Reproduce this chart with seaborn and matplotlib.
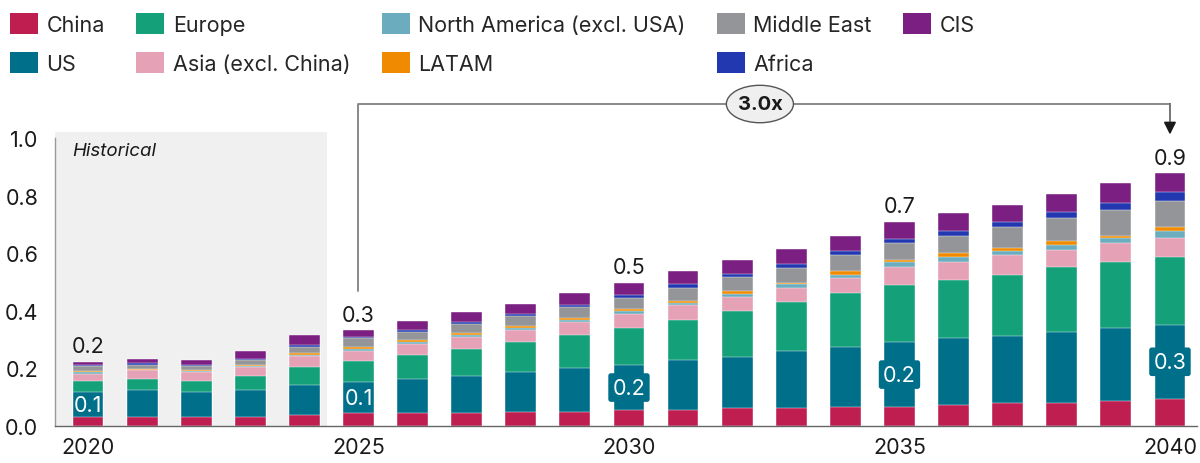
import numpy as np
import pandas as pd
import matplotlib
matplotlib.use('Agg')
import matplotlib.pyplot as plt
from matplotlib.patches import Patch, Rectangle, Ellipse
import seaborn as sns

years = list(range(2020, 2041))
regions = ['China', 'US', 'Europe', 'Asia (excl. China)', 'North America (excl. USA)',
           'LATAM', 'Middle East', 'Africa', 'CIS']
colors = ['#be1e50', '#006f8a', '#14a078', '#e5a1b5', '#6badbf',
          '#f08a00', '#939598', '#2238b0', '#7b1f82']

china = [0.030, 0.030, 0.030, 0.030, 0.037, 0.044, 0.044, 0.044, 0.050, 0.050, 0.055,
         0.055, 0.061, 0.061, 0.067, 0.067, 0.073, 0.079, 0.079, 0.086, 0.094]
us = [0.089, 0.096, 0.089, 0.096, 0.106, 0.108, 0.119, 0.131, 0.139, 0.151, 0.157,
      0.175, 0.180, 0.198, 0.206, 0.223, 0.231, 0.235, 0.248, 0.253, 0.258]
europe = [0.038, 0.037, 0.037, 0.049, 0.063, 0.073, 0.085, 0.092, 0.102, 0.115, 0.127,
          0.139, 0.159, 0.170, 0.188, 0.201, 0.204, 0.211, 0.224, 0.229, 0.235]
asia = [0.024, 0.031, 0.033, 0.031, 0.037, 0.036, 0.037, 0.043, 0.042, 0.044, 0.050,
        0.051, 0.049, 0.049, 0.053, 0.060, 0.062, 0.070, 0.061, 0.067, 0.067]
north_america = [0.005, 0.002, 0.002, 0.002, 0.004, 0.006, 0.006, 0.006, 0.008, 0.009, 0.010,
                 0.008, 0.011, 0.015, 0.012, 0.017, 0.018, 0.014, 0.016, 0.017, 0.024]
latam = [0.006, 0.003, 0.002, 0.005, 0.008, 0.007, 0.007, 0.007, 0.007, 0.007, 0.007,
         0.007, 0.008, 0.005, 0.011, 0.009, 0.011, 0.009, 0.013, 0.009, 0.012]
middle_east = [0.015, 0.014, 0.015, 0.017, 0.019, 0.031, 0.029, 0.031, 0.035, 0.038, 0.038,
               0.044, 0.049, 0.051, 0.056, 0.060, 0.062, 0.074, 0.080, 0.090, 0.092]
africa = [0.004, 0.006, 0.003, 0.001, 0.006, 0.005, 0.006, 0.006, 0.006, 0.007, 0.011,
          0.013, 0.011, 0.013, 0.013, 0.012, 0.017, 0.015, 0.023, 0.023, 0.029]
cis = [0.012, 0.012, 0.019, 0.029, 0.036, 0.023, 0.031, 0.035, 0.035, 0.040, 0.042,
       0.047, 0.048, 0.051, 0.053, 0.060, 0.060, 0.061, 0.062, 0.069, 0.066]

label_years = [2020, 2025, 2030, 2035, 2040]
growth_label = '3.0x'

series = [china, us, europe, asia, north_america, latam, middle_east, africa, cis]

sns.set_theme(style='white')
plt.rcParams['font.family'] = ['Inter', 'DejaVu Sans']

fig = plt.figure(figsize=(12, 4.64), dpi=100)
ax = fig.add_axes([55 / 1200, 37 / 464, 1142 / 1200, 288 / 464])

year_str = [str(y) for y in years]
tops = np.cumsum(np.array(series), axis=0)

# draw the cumulative totals from the top layer down, so each layer covers the next
for i in range(len(regions) - 1, -1, -1):
    sns.barplot(x=year_str, y=tops[i], order=year_str, color=colors[i], saturation=1,
                width=0.57, errorbar=None, ax=ax, zorder=2,
                edgecolor='white', linewidth=0.3)

ax.set_xlim(-0.61, 20.5)
ax.set_ylim(0, 1.0)

# historical shading
ax.add_patch(Rectangle((-0.61, 0), 5.03, 1.022, facecolor='#f0f0f0', edgecolor='none',
                       zorder=0, clip_on=False))
ax.text(-0.30, 0.955, 'Historical', style='italic', fontsize=13.5, color='#1a1a1a',
        va='center', ha='left')

fs = 15.5
ax.set_yticks(np.arange(0, 1.01, 0.2))
ax.set_yticklabels([f'{v:.1f}' for v in np.arange(0, 1.01, 0.2)])
ax.set_xticks([years.index(y) for y in label_years])
ax.set_xticklabels([str(y) for y in label_years])
ax.tick_params(axis='y', length=0, pad=12, labelsize=fs, labelcolor='#1a1a1a')
ax.tick_params(axis='x', length=0, pad=8, labelsize=fs, labelcolor='#1a1a1a')
ax.set_xlabel('')
ax.set_ylabel('')
for s in ['top', 'right']:
    ax.spines[s].set_visible(False)
ax.spines['left'].set_color('#9a9a9a')
ax.spines['bottom'].set_color('#666666')
ax.spines['left'].set_linewidth(1)
ax.spines['bottom'].set_linewidth(1)

totals = tops[-1]
for y in label_years:
    i = years.index(y)
    ax.annotate(f'{totals[i]:.1f}', (i, totals[i]), xytext=(0, 4), textcoords='offset points',
                ha='center', va='bottom', fontsize=fs, color='#1a1a1a')
    mid = china[i] + us[i] / 2
    box = None
    if y >= 2030:
        box = dict(boxstyle='round,pad=0.2,rounding_size=0.12', facecolor=colors[1],
                   edgecolor='none')
    ax.text(i, mid, f'{us[i]:.1f}', ha='center', va='center', fontsize=fs, color='white',
            bbox=box, zorder=5)

# growth bracket
i0 = years.index(2025)
i1 = years.index(2040)
yb = 1.118
line_c = '#808080'
ax.plot([i0, i0, i1], [0.469, yb, yb], color=line_c, lw=1.3, clip_on=False, zorder=3)
ax.annotate('', xy=(i1, 1.012), xytext=(i1, yb), annotation_clip=False,
            arrowprops=dict(arrowstyle='-|>', color='#1a1a1a', lw=1.3, mutation_scale=18,
                            shrinkA=0, shrinkB=0), zorder=3)
ax.plot([i1, i1], [yb, 1.06], color=line_c, lw=1.3, clip_on=False, zorder=4)
ax.add_patch(Ellipse((12.42, yb), 1.24, 0.13, facecolor='#efefef', edgecolor='#555555',
                     lw=1, clip_on=False, zorder=5))
ax.text(12.42, yb, growth_label, ha='center', va='center', fontsize=14.5, fontweight='bold',
        color='#1a1a1a', zorder=6)

handles = [Patch(facecolor=c, edgecolor='none') for c in colors]
fig.legend(handles, regions, ncol=5, loc='upper left', bbox_to_anchor=(10 / 1200, 1 - 14 / 464),
           bbox_transform=fig.transFigure, frameon=False, fontsize=15.5,
           handlelength=1.3, handleheight=1.1, handletextpad=0.4, labelspacing=0.82,
           columnspacing=1.45, borderpad=0, borderaxespad=0)

fig.savefig('out.png', dpi=100)
